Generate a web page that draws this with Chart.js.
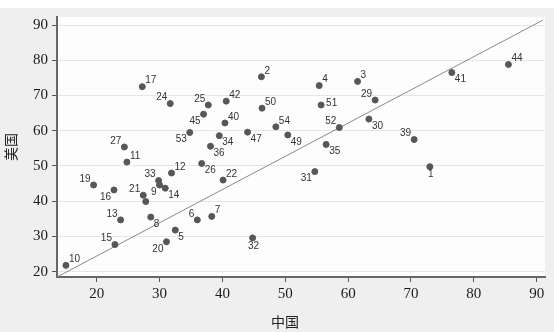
<!DOCTYPE html>
<html lang="zh">
<head>
  <meta charset="UTF-8">
  <title>中国 vs 美国</title>
  <script src="https://cdn.jsdelivr.net/npm/chart.js"></script>
  <style>
    body { margin: 0; background: #fff; }
    #wrap { width: 554px; height: 332px; }
  </style>
</head>
<body>
  <div id="wrap"><canvas id="scatterChart"></canvas></div>

  <script>
    // point ids and values (x = 中国, y = 美国)
    const ids = [1, 2, 3, 4, 5, 6, 7, 8, 9, 10, 11, 12, 13, 14, 15, 16, 17, 19, 20, 21, 22,
      24, 25, 26, 27, 29, 30, 31, 32, 33, 34, 35, 36, 39, 40, 41, 42, 44, 45, 47, 49, 50,
      51, 52, 53, 54, ''];
    const chinaVals = [73.0, 46.2, 61.5, 55.4, 32.5, 36.0, 38.3, 28.6, 30.0, 15.1, 24.8, 31.9,
      23.8, 30.9, 22.9, 22.75, 27.25, 19.5, 31.1, 27.4, 40.1, 31.7, 37.75, 36.7, 24.4, 64.3,
      63.3, 54.7, 44.8, 29.85, 39.5, 56.5, 38.1, 70.5, 40.4, 76.5, 40.6, 85.5, 37.0, 44.0,
      50.4, 46.3, 55.7, 58.6, 34.8, 48.5, 27.8];
    const usVals = [49.8, 75.3, 74.0, 72.8, 31.8, 34.7, 35.7, 35.5, 44.6, 21.8, 51.1, 48.0,
      34.7, 43.7, 27.7, 43.2, 72.5, 44.6, 28.5, 41.7, 46.0, 67.7, 67.3, 50.7, 55.4, 68.7,
      63.3, 48.4, 29.6, 45.85, 58.6, 56.1, 55.6, 57.5, 62.2, 76.5, 68.4, 78.8, 64.7, 59.6,
      58.8, 66.4, 67.3, 60.9, 59.5, 61.1, 39.9];
    // reference line ends
    const refLineX = [13.68, 91.0];
    const refLineY = [18.5, 91.4];
    const xTicks = [20, 30, 40, 50, 60, 70, 80, 90];
    const yTicks = [20, 30, 40, 50, 60, 70, 80, 90];

    // where each label sits around its dot
    const labelPos = ['b', 'ur', 'ur', 'ur', 'lr', 'ul', 'ur', 'lr', 'll', 'ur', 'ur', 'ur',
      'ul', 'lr', 'ul', 'll', 'ur', 'ul', 'll', 'ul', 'ur', 'ul', 'ul', 'lr', 'ul', 'ul',
      'lr', 'll', 'b', 'ul', 'lr', 'lr', 'lr', 'ul', 'ur', 'lr', 'ur', 'ur', 'll', 'lr',
      'lr', 'ur', 'r', 'ul', 'll', 'ur', 'b'];

    const points = chinaVals.map((x, i) => ({ x: x, y: usVals[i] }));
    const refLine = refLineX.map((x, i) => ({ x: x, y: refLineY[i] }));

    const backdrop = {
      id: 'backdrop',
      beforeDraw(chart) {
        const { ctx, chartArea: a } = chart;
        ctx.save();
        ctx.fillStyle = '#efefef';
        ctx.fillRect(0, 0, chart.width, chart.height);
        ctx.fillStyle = '#ffffff';
        ctx.fillRect(0, 0, chart.width, 8);
        ctx.fillStyle = '#fdfdfd';
        ctx.fillRect(a.left, a.top, a.right - a.left, a.bottom - a.top);
        ctx.restore();
      }
    };

    const pointLabels = {
      id: 'pointLabels',
      afterDatasetsDraw(chart) {
        const ctx = chart.ctx;
        const meta = chart.getDatasetMeta(0);
        ctx.save();
        ctx.font = '10px "Liberation Sans", Arial, sans-serif';
        ctx.fillStyle = '#333';
        ctx.textBaseline = 'middle';
        meta.data.forEach((el, i) => {
          const p = labelPos[i];
          let dx = 3, dy = -6, align = 'left';
          if (p === 'ul') { dx = -3; dy = -6; align = 'right'; }
          if (p === 'lr') { dx = 3; dy = 7; }
          if (p === 'll') { dx = -3; dy = 7; align = 'right'; }
          if (p === 'r') { dx = 5; dy = -2; }
          if (p === 'b') { dx = 1; dy = 8; align = 'center'; }
          ctx.textAlign = align;
          ctx.fillText(String(ids[i]), el.x + dx, el.y + dy);
        });
        // x axis title
        ctx.font = '14px "Noto Sans CJK SC", serif';
        ctx.fillStyle = '#222';
        ctx.textAlign = 'center';
        ctx.fillText('中国', 285, 322);
        ctx.restore();
      }
    };

    const tickFont = { family: '"Liberation Serif", "Times New Roman", serif', size: 15 };

    new Chart(document.getElementById('scatterChart').getContext('2d'), {
      type: 'scatter',
      data: {
        datasets: [{
          data: points,
          backgroundColor: '#575757',
          borderColor: '#575757',
          pointRadius: 3,
          pointHoverRadius: 3,
        }, {
          type: 'line',
          data: refLine,
          borderColor: '#8a8a8a',
          borderWidth: 1,
          pointRadius: 0,
          fill: false,
        }],
      },
      options: {
        responsive: true,
        maintainAspectRatio: false,
        animation: false,
        layout: { padding: { top: 17, right: 9, left: 0, bottom: 0 } },
        plugins: { legend: { display: false }, tooltip: { enabled: false } },
        scales: {
          x: {
            type: 'linear',
            min: 13.68,
            max: 91.32,
            afterBuildTicks: s => { s.ticks = xTicks.map(v => ({ value: v })); },
            afterFit: s => { s.height = 55; },
            grid: { drawOnChartArea: false, drawTicks: true, tickLength: 5, tickColor: '#555' },
            border: { color: '#666', width: 2 },
            ticks: { color: '#1a1a1a', padding: 3, maxRotation: 0, font: tickFont },
          },
          y: {
            min: 18.5,
            max: 92.27,
            afterBuildTicks: s => { s.ticks = yTicks.map(v => ({ value: v })); },
            afterFit: s => { s.width = 57; },
            grid: { color: '#e6e6e6', tickLength: 5, tickColor: '#555' },
            border: { color: '#666', width: 2 },
            title: {
              display: true,
              text: '美国',
              color: '#222',
              padding: { top: 2, bottom: 0 },
              font: { family: '"Noto Sans CJK SC", serif', size: 14 },
            },
            ticks: { color: '#1a1a1a', padding: 4, font: tickFont },
          },
        },
      },
      plugins: [backdrop, pointLabels],
    });
  </script>
</body>
</html>
